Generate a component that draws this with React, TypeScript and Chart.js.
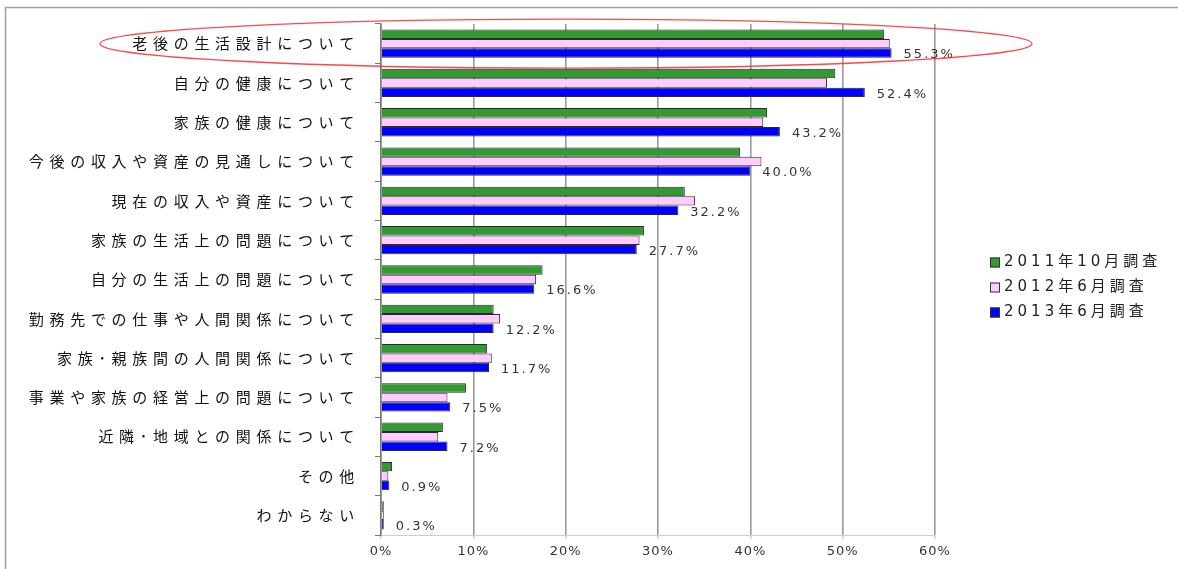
import { useEffect, useRef } from "react";
import { Chart, registerables } from "chart.js";

Chart.register(...registerables);

// Survey topics (top to bottom)
const categories = [
  "老後の生活設計について",
  "自分の健康について",
  "家族の健康について",
  "今後の収入や資産の見通しについて",
  "現在の収入や資産について",
  "家族の生活上の問題について",
  "自分の生活上の問題について",
  "勤務先での仕事や人間関係について",
  "家族･親族間の人間関係について",
  "事業や家族の経営上の問題について",
  "近隣･地域との関係について",
  "その他",
  "わからない",
];

const seriesLabels = ["2011年10月調査", "2012年6月調査", "2013年6月調査"];

const values2011 = [54.5, 49.2, 41.8, 38.9, 32.9, 28.5, 17.5, 12.2, 11.5, 9.2, 6.7, 1.2, 0.3];
const values2012 = [55.1, 48.3, 41.4, 41.2, 34.0, 28.0, 16.8, 12.9, 12.0, 7.2, 6.2, 0.8, 0.3];
const values2013 = [55.3, 52.4, 43.2, 40.0, 32.2, 27.7, 16.6, 12.2, 11.7, 7.5, 7.2, 0.9, 0.3];

const seriesColors = ["#339933", "#ffccff", "#0000ff"];

const axisMax = 60;
const axisStep = 10;

// Wraps a scale's label drawing so its text is rendered with extra tracking.
function trackLabels(scale: any, spacing: string) {
  if (!scale || scale.__tracked === spacing) return;
  const orig = scale.drawLabels;
  scale.drawLabels = function (area: any) {
    const ctx = this.ctx as any;
    const prev = ctx.letterSpacing;
    ctx.letterSpacing = spacing;
    orig.call(this, area);
    ctx.letterSpacing = prev;
  };
  scale.__tracked = spacing;
}

const trackingPlugin = {
  id: "tracking",
  afterLayout(chart: any) {
    trackLabels(chart.scales.y, "5.7px");
    trackLabels(chart.scales.x, "1px");
  },
};

const framePlugin = {
  id: "frame",
  beforeDraw(chart: any) {
    const { ctx, width, height } = chart;
    ctx.save();
    ctx.fillStyle = "#ffffff";
    ctx.fillRect(0, 0, width, height);
    ctx.strokeStyle = "#a0a0a0";
    ctx.lineWidth = 1.5;
    ctx.beginPath();
    ctx.moveTo(5.5, height);
    ctx.lineTo(5.5, 7.5);
    ctx.lineTo(width, 7.5);
    ctx.stroke();
    ctx.restore();
  },
};

const valueLabelPlugin = {
  id: "valueLabels",
  afterDatasetsDraw(chart: any) {
    const { ctx } = chart;
    const meta = chart.getDatasetMeta(2);
    const data = chart.data.datasets[2].data as number[];
    ctx.save();
    (ctx as any).letterSpacing = "2px";
    ctx.font = '13px "DejaVu Sans"';
    ctx.fillStyle = "#333333";
    ctx.textAlign = "left";
    ctx.textBaseline = "middle";
    meta.data.forEach((bar: any, i: number) => {
      ctx.fillText(`${data[i].toFixed(1)}%`, bar.x + 12, bar.y + 2);
    });
    ctx.restore();
  },
};

const highlightPlugin = {
  id: "highlight",
  afterDraw(chart: any) {
    const { ctx } = chart;
    const cy = chart.scales.y.getPixelForValue(0);
    ctx.save();
    ctx.strokeStyle = "rgba(255, 40, 40, 0.85)";
    ctx.lineWidth = 1.3;
    ctx.beginPath();
    ctx.ellipse(566, cy, 466, 24.5, 0, 0, Math.PI * 2);
    ctx.stroke();
    ctx.restore();
  },
};

const legendPlugin = {
  id: "sideLegend",
  afterDraw(chart: any) {
    const { ctx } = chart;
    const x0 = 990;
    const y0 = 262;
    const gap = 25;
    ctx.save();
    ctx.font = '15px "DejaVu Sans", "Noto Sans CJK JP"';
    (ctx as any).letterSpacing = "4px";
    ctx.textBaseline = "middle";
    ctx.textAlign = "left";
    chart.data.datasets.forEach((ds: any, i: number) => {
      const y = y0 + i * gap;
      ctx.fillStyle = ds.backgroundColor;
      ctx.fillRect(x0, y - 4.5, 10, 10);
      ctx.strokeStyle = "#333333";
      ctx.lineWidth = 1;
      ctx.strokeRect(x0 + 0.5, y - 4, 9, 9);
      ctx.fillStyle = "#222222";
      ctx.fillText(ds.label, x0 + 14, y);
    });
    ctx.restore();
  },
};

export default function App() {
  const canvasRef = useRef<HTMLCanvasElement | null>(null);

  useEffect(() => {
    const canvas = canvasRef.current;
    if (!canvas) return;
    const seriesValues = [values2011, values2012, values2013];
    const chart = new Chart(canvas, {
      type: "bar",
      data: {
        labels: categories,
        datasets: seriesLabels.map((label, i) => ({
          label,
          data: seriesValues[i],
          backgroundColor: seriesColors[i],
          borderColor: "#2a2a2a",
          borderWidth: 1,
          categoryPercentage: 0.72,
          barPercentage: 1,
        })),
      },
      options: {
        indexAxis: "y",
        responsive: false,
        animation: false,
        layout: { padding: { top: 22, right: 243, bottom: 0, left: 0 } },
        plugins: {
          legend: { display: false },
          tooltip: { enabled: false },
        },
        scales: {
          x: {
            min: 0,
            max: axisMax,
            afterFit(scale: any) {
              scale.height = 34;
            },
            ticks: {
              stepSize: axisStep,
              padding: 5,
              color: "#333333",
              font: { family: '"DejaVu Sans"', size: 13 },
              callback: (v: any) => `${v}%`,
            },
            grid: {
              color: "#9a9a9a",
              lineWidth: 1.6,
              drawTicks: true,
              tickLength: 4,
              tickColor: "#d0d0d0",
            },
            border: { display: true, color: "#cfcfcf", width: 1 },
          },
          y: {
            type: "category",
            afterFit(scale: any) {
              scale.width = 381;
            },
            ticks: {
              padding: 15,
              color: "#111111",
              font: { family: '"Noto Sans CJK JP"', size: 15 },
            },
            grid: {
              offset: true,
              drawOnChartArea: false,
              drawTicks: true,
              tickLength: 6,
              color: "#777777",
            },
            border: { display: true, color: "#777777", width: 1.5 },
          },
        },
      },
      plugins: [framePlugin, trackingPlugin, valueLabelPlugin, highlightPlugin, legendPlugin],
    });
    return () => chart.destroy();
  }, []);

  return (
    <div style={{ position: "absolute", left: 0, top: 0, width: 1178, height: 569, background: "#ffffff" }}>
      <canvas ref={canvasRef} width={1178} height={569} style={{ display: "block" }} />
    </div>
  );
}
